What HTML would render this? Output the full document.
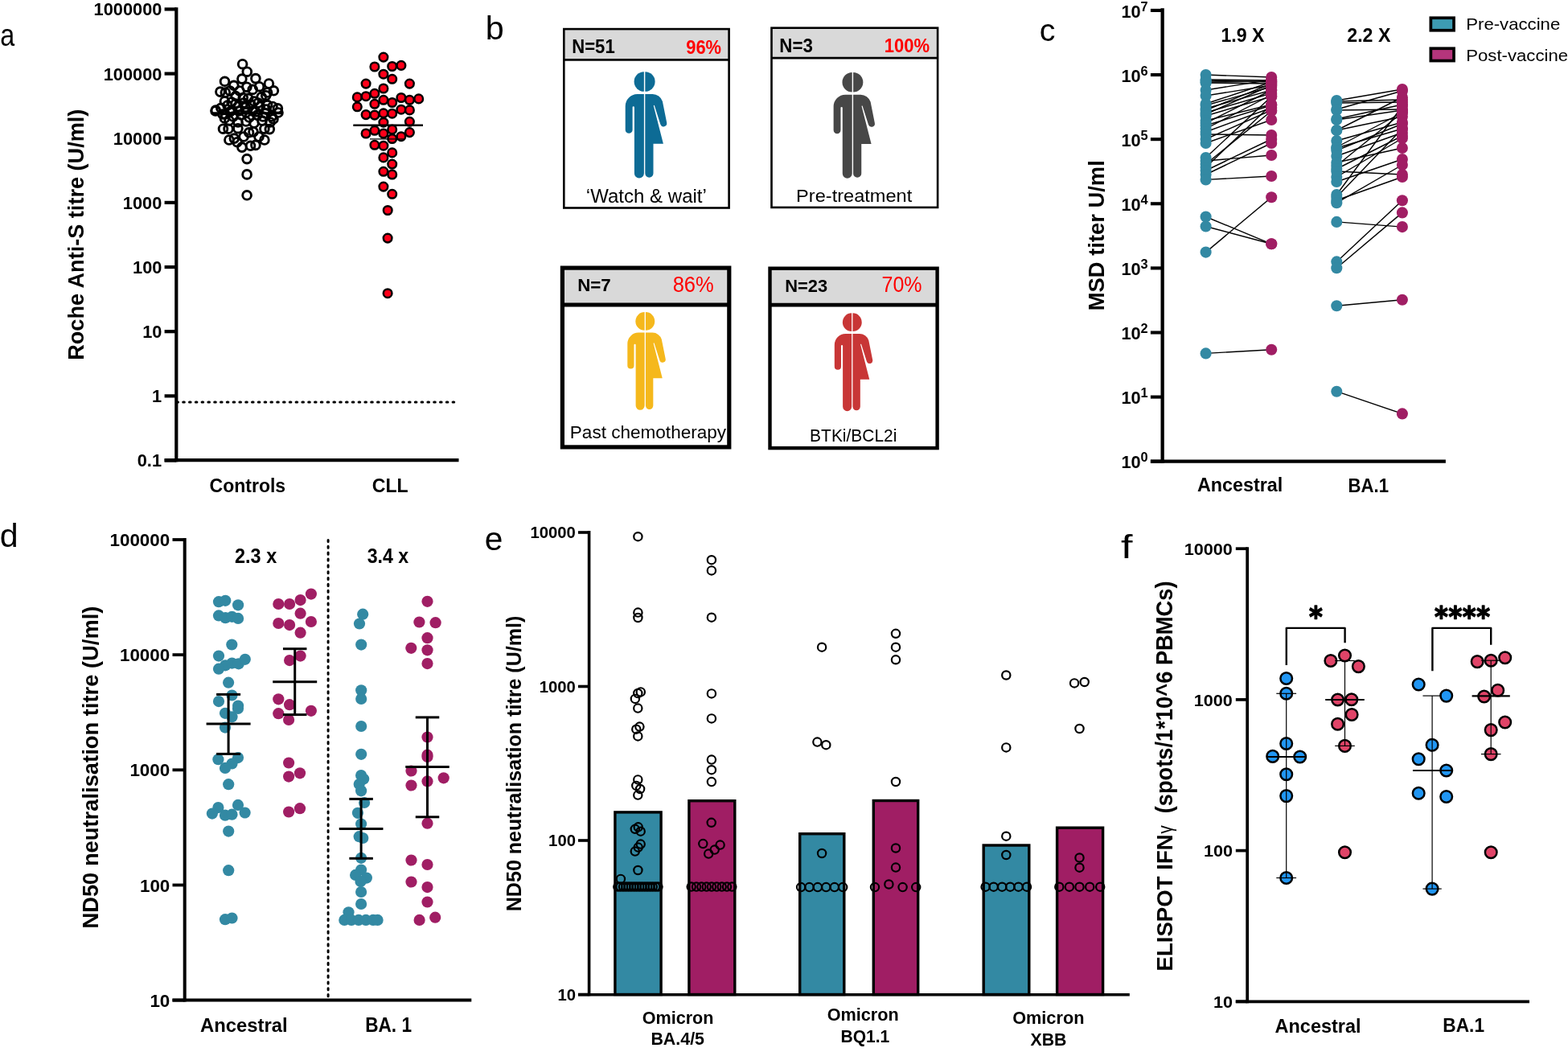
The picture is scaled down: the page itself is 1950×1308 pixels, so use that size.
<!DOCTYPE html>
<html><head><meta charset="utf-8"><title>Figure</title>
<style>html,body{margin:0;padding:0;background:#fff;}svg{display:block;}
text{font-family:"Liberation Sans",Arial,sans-serif;}</style></head>
<body><svg width="1950" height="1308" viewBox="0 0 1950 1308">
<rect width="1950" height="1308" fill="#fff"/>
<text transform="translate(0.34 56.61) scale(0.8393 1)" font-size="38.55" font-weight="normal" fill="#000">a</text>
<text transform="translate(603.81 48.79) scale(1.0161 1)" font-size="40.68" font-weight="normal" fill="#000">b</text>
<text transform="translate(1292.83 51.11) scale(1.0054 1)" font-size="39.09" font-weight="normal" fill="#000">c</text>
<text transform="translate(-0.14 679.89) scale(0.9972 1)" font-size="41.22" font-weight="normal" fill="#000">d</text>
<text transform="translate(602.77 683.60) scale(1.0161 1)" font-size="40.00" font-weight="normal" fill="#000">e</text>
<text transform="translate(1394.12 694.00) scale(1.2974 1)" font-size="40.14" font-weight="normal" fill="#000">f</text>
<line x1="204.60" y1="572.50" x2="219.30" y2="572.50" stroke="#000" stroke-width="4.2"/>
<text transform="translate(170.75 580.42) scale(0.9494 1)" font-size="22.96" font-weight="bold" fill="#000">0.1</text>
<line x1="204.60" y1="492.35" x2="219.30" y2="492.35" stroke="#000" stroke-width="4.2"/>
<text transform="translate(188.95 500.27) scale(0.9494 1)" font-size="22.96" font-weight="bold" fill="#000">1</text>
<line x1="204.60" y1="412.20" x2="219.30" y2="412.20" stroke="#000" stroke-width="4.2"/>
<text transform="translate(177.18 420.12) scale(0.9494 1)" font-size="22.96" font-weight="bold" fill="#000">10</text>
<line x1="204.60" y1="332.05" x2="219.30" y2="332.05" stroke="#000" stroke-width="4.2"/>
<text transform="translate(165.08 339.97) scale(0.9494 1)" font-size="22.96" font-weight="bold" fill="#000">100</text>
<line x1="204.60" y1="251.90" x2="219.30" y2="251.90" stroke="#000" stroke-width="4.2"/>
<text transform="translate(152.87 259.82) scale(0.9494 1)" font-size="22.96" font-weight="bold" fill="#000">1000</text>
<line x1="204.60" y1="171.75" x2="219.30" y2="171.75" stroke="#000" stroke-width="4.2"/>
<text transform="translate(140.78 179.67) scale(0.9494 1)" font-size="22.96" font-weight="bold" fill="#000">10000</text>
<line x1="204.60" y1="91.60" x2="219.30" y2="91.60" stroke="#000" stroke-width="4.2"/>
<text transform="translate(128.68 99.52) scale(0.9494 1)" font-size="22.96" font-weight="bold" fill="#000">100000</text>
<line x1="204.60" y1="11.45" x2="219.30" y2="11.45" stroke="#000" stroke-width="4.2"/>
<text transform="translate(116.58 19.37) scale(0.9494 1)" font-size="22.96" font-weight="bold" fill="#000">1000000</text>
<line x1="219.90" y1="499.90" x2="570.00" y2="499.90" stroke="#000" stroke-width="3" stroke-dasharray="1.6 6.2" stroke-linecap="round"/>
<line x1="219.30" y1="9.20" x2="219.30" y2="574.20" stroke="#000" stroke-width="4.2"/>
<line x1="204.60" y1="572.20" x2="570.50" y2="572.20" stroke="#000" stroke-width="4.2"/>
<text transform="translate(103.55 447.76) rotate(-90) scale(0.9562 1)" font-size="28.34" font-weight="bold" fill="#000">Roche Anti-S titre (U/ml)</text>
<text transform="translate(260.58 611.56) scale(0.9727 1)" font-size="23.67" font-weight="bold" fill="#000">Controls</text>
<text transform="translate(462.67 611.56) scale(0.9555 1)" font-size="24.23" font-weight="bold" fill="#000">CLL</text>
<circle cx="301.6" cy="79.7" r="5.35" fill="none" stroke="#000" stroke-width="2.9"/>
<circle cx="307.3" cy="89.2" r="5.35" fill="none" stroke="#000" stroke-width="2.9"/>
<circle cx="300.9" cy="98.1" r="5.35" fill="none" stroke="#000" stroke-width="2.9"/>
<circle cx="317.9" cy="97.6" r="5.35" fill="none" stroke="#000" stroke-width="2.9"/>
<circle cx="279.5" cy="101.3" r="5.35" fill="none" stroke="#000" stroke-width="2.9"/>
<circle cx="290.8" cy="106.3" r="5.35" fill="none" stroke="#000" stroke-width="2.9"/>
<circle cx="334.4" cy="104.0" r="5.35" fill="none" stroke="#000" stroke-width="2.9"/>
<circle cx="340.4" cy="112.8" r="5.35" fill="none" stroke="#000" stroke-width="2.9"/>
<circle cx="273.9" cy="114.1" r="5.35" fill="none" stroke="#000" stroke-width="2.9"/>
<circle cx="306.9" cy="108.2" r="5.35" fill="none" stroke="#000" stroke-width="2.9"/>
<circle cx="322.5" cy="107.7" r="5.35" fill="none" stroke="#000" stroke-width="2.9"/>
<circle cx="280.3" cy="115.0" r="5.35" fill="none" stroke="#000" stroke-width="2.9"/>
<circle cx="314.2" cy="111.4" r="5.35" fill="none" stroke="#000" stroke-width="2.9"/>
<circle cx="332.6" cy="115.0" r="5.35" fill="none" stroke="#000" stroke-width="2.9"/>
<circle cx="293.1" cy="119.6" r="5.35" fill="none" stroke="#000" stroke-width="2.9"/>
<circle cx="302.3" cy="121.5" r="5.35" fill="none" stroke="#000" stroke-width="2.9"/>
<circle cx="308.7" cy="122.4" r="5.35" fill="none" stroke="#000" stroke-width="2.9"/>
<circle cx="325.2" cy="120.6" r="5.35" fill="none" stroke="#000" stroke-width="2.9"/>
<circle cx="330.7" cy="118.7" r="5.35" fill="none" stroke="#000" stroke-width="2.9"/>
<circle cx="279.4" cy="126.0" r="5.35" fill="none" stroke="#000" stroke-width="2.9"/>
<circle cx="268.3" cy="137.0" r="5.35" fill="none" stroke="#000" stroke-width="2.9"/>
<circle cx="274.8" cy="134.3" r="5.35" fill="none" stroke="#000" stroke-width="2.9"/>
<circle cx="345.4" cy="134.8" r="5.35" fill="none" stroke="#000" stroke-width="2.9"/>
<circle cx="339.0" cy="132.5" r="5.35" fill="none" stroke="#000" stroke-width="2.9"/>
<circle cx="332.6" cy="130.6" r="5.35" fill="none" stroke="#000" stroke-width="2.9"/>
<circle cx="323.4" cy="132.5" r="5.35" fill="none" stroke="#000" stroke-width="2.9"/>
<circle cx="295.9" cy="132.5" r="5.35" fill="none" stroke="#000" stroke-width="2.9"/>
<circle cx="305.0" cy="133.4" r="5.35" fill="none" stroke="#000" stroke-width="2.9"/>
<circle cx="288.5" cy="137.0" r="5.35" fill="none" stroke="#000" stroke-width="2.9"/>
<circle cx="314.2" cy="138.0" r="5.35" fill="none" stroke="#000" stroke-width="2.9"/>
<circle cx="280.0" cy="142.0" r="5.35" fill="none" stroke="#000" stroke-width="2.9"/>
<circle cx="290.0" cy="145.0" r="5.35" fill="none" stroke="#000" stroke-width="2.9"/>
<circle cx="300.0" cy="143.0" r="5.35" fill="none" stroke="#000" stroke-width="2.9"/>
<circle cx="310.0" cy="146.0" r="5.35" fill="none" stroke="#000" stroke-width="2.9"/>
<circle cx="320.0" cy="143.0" r="5.35" fill="none" stroke="#000" stroke-width="2.9"/>
<circle cx="330.0" cy="141.0" r="5.35" fill="none" stroke="#000" stroke-width="2.9"/>
<circle cx="338.0" cy="145.0" r="5.35" fill="none" stroke="#000" stroke-width="2.9"/>
<circle cx="285.0" cy="150.0" r="5.35" fill="none" stroke="#000" stroke-width="2.9"/>
<circle cx="296.0" cy="152.0" r="5.35" fill="none" stroke="#000" stroke-width="2.9"/>
<circle cx="306.0" cy="151.0" r="5.35" fill="none" stroke="#000" stroke-width="2.9"/>
<circle cx="316.0" cy="153.0" r="5.35" fill="none" stroke="#000" stroke-width="2.9"/>
<circle cx="326.0" cy="150.0" r="5.35" fill="none" stroke="#000" stroke-width="2.9"/>
<circle cx="336.0" cy="152.0" r="5.35" fill="none" stroke="#000" stroke-width="2.9"/>
<circle cx="279.4" cy="147.0" r="5.35" fill="none" stroke="#000" stroke-width="2.9"/>
<circle cx="288.0" cy="127.0" r="5.35" fill="none" stroke="#000" stroke-width="2.9"/>
<circle cx="316.0" cy="126.0" r="5.35" fill="none" stroke="#000" stroke-width="2.9"/>
<circle cx="298.0" cy="113.0" r="5.35" fill="none" stroke="#000" stroke-width="2.9"/>
<circle cx="286.0" cy="113.0" r="5.35" fill="none" stroke="#000" stroke-width="2.9"/>
<circle cx="268.0" cy="138.0" r="5.35" fill="none" stroke="#000" stroke-width="2.9"/>
<circle cx="346.0" cy="140.0" r="5.35" fill="none" stroke="#000" stroke-width="2.9"/>
<circle cx="283.0" cy="131.0" r="5.35" fill="none" stroke="#000" stroke-width="2.9"/>
<circle cx="293.0" cy="129.0" r="5.35" fill="none" stroke="#000" stroke-width="2.9"/>
<circle cx="303.0" cy="128.0" r="5.35" fill="none" stroke="#000" stroke-width="2.9"/>
<circle cx="312.0" cy="130.0" r="5.35" fill="none" stroke="#000" stroke-width="2.9"/>
<circle cx="321.0" cy="128.0" r="5.35" fill="none" stroke="#000" stroke-width="2.9"/>
<circle cx="331.0" cy="136.0" r="5.35" fill="none" stroke="#000" stroke-width="2.9"/>
<circle cx="277.0" cy="142.0" r="5.35" fill="none" stroke="#000" stroke-width="2.9"/>
<circle cx="286.0" cy="139.0" r="5.35" fill="none" stroke="#000" stroke-width="2.9"/>
<circle cx="297.0" cy="138.0" r="5.35" fill="none" stroke="#000" stroke-width="2.9"/>
<circle cx="306.0" cy="140.0" r="5.35" fill="none" stroke="#000" stroke-width="2.9"/>
<circle cx="318.0" cy="139.0" r="5.35" fill="none" stroke="#000" stroke-width="2.9"/>
<circle cx="327.0" cy="145.0" r="5.35" fill="none" stroke="#000" stroke-width="2.9"/>
<circle cx="340.0" cy="148.0" r="5.35" fill="none" stroke="#000" stroke-width="2.9"/>
<circle cx="277.5" cy="160.2" r="5.35" fill="none" stroke="#000" stroke-width="2.9"/>
<circle cx="284.0" cy="160.2" r="5.35" fill="none" stroke="#000" stroke-width="2.9"/>
<circle cx="295.9" cy="159.7" r="5.35" fill="none" stroke="#000" stroke-width="2.9"/>
<circle cx="309.6" cy="164.8" r="5.35" fill="none" stroke="#000" stroke-width="2.9"/>
<circle cx="315.0" cy="163.9" r="5.35" fill="none" stroke="#000" stroke-width="2.9"/>
<circle cx="328.9" cy="160.2" r="5.35" fill="none" stroke="#000" stroke-width="2.9"/>
<circle cx="335.3" cy="160.6" r="5.35" fill="none" stroke="#000" stroke-width="2.9"/>
<circle cx="284.9" cy="174.0" r="5.35" fill="none" stroke="#000" stroke-width="2.9"/>
<circle cx="291.3" cy="172.1" r="5.35" fill="none" stroke="#000" stroke-width="2.9"/>
<circle cx="295.0" cy="176.7" r="5.35" fill="none" stroke="#000" stroke-width="2.9"/>
<circle cx="300.9" cy="183.1" r="5.35" fill="none" stroke="#000" stroke-width="2.9"/>
<circle cx="311.5" cy="181.3" r="5.35" fill="none" stroke="#000" stroke-width="2.9"/>
<circle cx="317.9" cy="180.4" r="5.35" fill="none" stroke="#000" stroke-width="2.9"/>
<circle cx="328.9" cy="174.0" r="5.35" fill="none" stroke="#000" stroke-width="2.9"/>
<circle cx="303.0" cy="170.0" r="5.35" fill="none" stroke="#000" stroke-width="2.9"/>
<circle cx="322.0" cy="170.0" r="5.35" fill="none" stroke="#000" stroke-width="2.9"/>
<circle cx="307.1" cy="197.6" r="5.35" fill="none" stroke="#000" stroke-width="2.9"/>
<circle cx="307.1" cy="216.9" r="5.35" fill="none" stroke="#000" stroke-width="2.9"/>
<circle cx="307.1" cy="242.8" r="5.35" fill="none" stroke="#000" stroke-width="2.9"/>
<line x1="262.80" y1="140.70" x2="351.00" y2="140.70" stroke="#000" stroke-width="3"/>
<circle cx="476.9" cy="71.1" r="5.3" fill="#ff0019" stroke="#000" stroke-width="2.5"/>
<circle cx="465.9" cy="83.0" r="5.3" fill="#ff0019" stroke="#000" stroke-width="2.5"/>
<circle cx="487.7" cy="82.5" r="5.3" fill="#ff0019" stroke="#000" stroke-width="2.5"/>
<circle cx="498.9" cy="81.4" r="5.3" fill="#ff0019" stroke="#000" stroke-width="2.5"/>
<circle cx="476.9" cy="92.2" r="5.3" fill="#ff0019" stroke="#000" stroke-width="2.5"/>
<circle cx="487.7" cy="98.3" r="5.3" fill="#ff0019" stroke="#000" stroke-width="2.5"/>
<circle cx="455.1" cy="104.1" r="5.3" fill="#ff0019" stroke="#000" stroke-width="2.5"/>
<circle cx="509.4" cy="104.1" r="5.3" fill="#ff0019" stroke="#000" stroke-width="2.5"/>
<circle cx="476.9" cy="110.0" r="5.3" fill="#ff0019" stroke="#000" stroke-width="2.5"/>
<circle cx="444.3" cy="120.9" r="5.3" fill="#ff0019" stroke="#000" stroke-width="2.5"/>
<circle cx="455.1" cy="119.7" r="5.3" fill="#ff0019" stroke="#000" stroke-width="2.5"/>
<circle cx="465.9" cy="116.3" r="5.3" fill="#ff0019" stroke="#000" stroke-width="2.5"/>
<circle cx="476.9" cy="124.3" r="5.3" fill="#ff0019" stroke="#000" stroke-width="2.5"/>
<circle cx="487.7" cy="127.5" r="5.3" fill="#ff0019" stroke="#000" stroke-width="2.5"/>
<circle cx="498.9" cy="121.5" r="5.3" fill="#ff0019" stroke="#000" stroke-width="2.5"/>
<circle cx="509.4" cy="124.3" r="5.3" fill="#ff0019" stroke="#000" stroke-width="2.5"/>
<circle cx="520.7" cy="122.9" r="5.3" fill="#ff0019" stroke="#000" stroke-width="2.5"/>
<circle cx="444.3" cy="132.8" r="5.3" fill="#ff0019" stroke="#000" stroke-width="2.5"/>
<circle cx="465.9" cy="129.3" r="5.3" fill="#ff0019" stroke="#000" stroke-width="2.5"/>
<circle cx="498.9" cy="136.2" r="5.3" fill="#ff0019" stroke="#000" stroke-width="2.5"/>
<circle cx="509.4" cy="136.9" r="5.3" fill="#ff0019" stroke="#000" stroke-width="2.5"/>
<circle cx="455.1" cy="142.6" r="5.3" fill="#ff0019" stroke="#000" stroke-width="2.5"/>
<circle cx="465.9" cy="143.1" r="5.3" fill="#ff0019" stroke="#000" stroke-width="2.5"/>
<circle cx="476.9" cy="140.8" r="5.3" fill="#ff0019" stroke="#000" stroke-width="2.5"/>
<circle cx="487.7" cy="141.2" r="5.3" fill="#ff0019" stroke="#000" stroke-width="2.5"/>
<circle cx="476.9" cy="152.2" r="5.3" fill="#ff0019" stroke="#000" stroke-width="2.5"/>
<circle cx="509.4" cy="151.3" r="5.3" fill="#ff0019" stroke="#000" stroke-width="2.5"/>
<circle cx="455.1" cy="166.0" r="5.3" fill="#ff0019" stroke="#000" stroke-width="2.5"/>
<circle cx="465.9" cy="162.3" r="5.3" fill="#ff0019" stroke="#000" stroke-width="2.5"/>
<circle cx="476.9" cy="166.0" r="5.3" fill="#ff0019" stroke="#000" stroke-width="2.5"/>
<circle cx="487.7" cy="161.0" r="5.3" fill="#ff0019" stroke="#000" stroke-width="2.5"/>
<circle cx="509.4" cy="164.6" r="5.3" fill="#ff0019" stroke="#000" stroke-width="2.5"/>
<circle cx="498.9" cy="169.7" r="5.3" fill="#ff0019" stroke="#000" stroke-width="2.5"/>
<circle cx="487.7" cy="172.5" r="5.3" fill="#ff0019" stroke="#000" stroke-width="2.5"/>
<circle cx="465.9" cy="180.3" r="5.3" fill="#ff0019" stroke="#000" stroke-width="2.5"/>
<circle cx="476.9" cy="181.2" r="5.3" fill="#ff0019" stroke="#000" stroke-width="2.5"/>
<circle cx="487.7" cy="189.9" r="5.3" fill="#ff0019" stroke="#000" stroke-width="2.5"/>
<circle cx="476.9" cy="195.9" r="5.3" fill="#ff0019" stroke="#000" stroke-width="2.5"/>
<circle cx="487.7" cy="204.1" r="5.3" fill="#ff0019" stroke="#000" stroke-width="2.5"/>
<circle cx="476.9" cy="213.3" r="5.3" fill="#ff0019" stroke="#000" stroke-width="2.5"/>
<circle cx="487.7" cy="217.0" r="5.3" fill="#ff0019" stroke="#000" stroke-width="2.5"/>
<circle cx="476.9" cy="232.1" r="5.3" fill="#ff0019" stroke="#000" stroke-width="2.5"/>
<circle cx="487.7" cy="241.3" r="5.3" fill="#ff0019" stroke="#000" stroke-width="2.5"/>
<circle cx="482.2" cy="261.5" r="5.3" fill="#ff0019" stroke="#000" stroke-width="2.5"/>
<circle cx="482.1" cy="296.1" r="5.3" fill="#ff0019" stroke="#000" stroke-width="2.5"/>
<circle cx="482.1" cy="364.7" r="5.3" fill="#ff0019" stroke="#000" stroke-width="2.5"/>
<line x1="439.30" y1="155.70" x2="526.00" y2="155.70" stroke="#000" stroke-width="2.6"/>
<line x1="460.00" y1="172.90" x2="504.00" y2="172.90" stroke="#000" stroke-width="1.2"/>
<rect x="701.30" y="36.10" width="205.30" height="38.20" fill="#d9d9d9"/>
<line x1="701.30" y1="74.30" x2="906.60" y2="74.30" stroke="#000" stroke-width="2.7"/>
<rect x="701.30" y="36.10" width="205.30" height="222.40" fill="none" stroke="#000" stroke-width="2.6"/>
<rect x="959.50" y="34.70" width="206.60" height="37.40" fill="#d9d9d9"/>
<line x1="959.50" y1="72.10" x2="1166.10" y2="72.10" stroke="#000" stroke-width="2.7"/>
<rect x="959.50" y="34.70" width="206.60" height="223.20" fill="none" stroke="#000" stroke-width="2.6"/>
<rect x="699.40" y="333.10" width="207.40" height="45.90" fill="#d9d9d9"/>
<line x1="699.40" y1="379.00" x2="906.80" y2="379.00" stroke="#000" stroke-width="5.0"/>
<rect x="699.40" y="333.10" width="207.40" height="222.80" fill="none" stroke="#000" stroke-width="5.2"/>
<rect x="957.50" y="333.70" width="208.10" height="45.40" fill="#d9d9d9"/>
<line x1="957.50" y1="379.10" x2="1165.60" y2="379.10" stroke="#000" stroke-width="4.7"/>
<rect x="957.50" y="333.70" width="208.10" height="223.40" fill="none" stroke="#000" stroke-width="4.4"/>
<g transform="translate(801.60 87.00) scale(1.0)" fill="#0d6b95"><path d="M -0.7 2.25 A 12.3 12.3 0 0 0 -0.7 26.85 Z"/><path d="M 0.7 2.25 A 12.3 12.3 0 0 1 0.7 26.85 Z"/><path d="M -0.7 30 L -9 30 A 15 15 0 0 0 -23.9 45 L -23.9 74.4 A 4.45 4.45 0 0 0 -15 74.4 L -15 46.5 A 1.15 1.15 0 0 1 -12.7 46.5 L -12.7 128.6 A 6 6 0 0 0 -0.7 128.6 Z"/><path d="M 0.7 30 L 10 30 A 13 13 0 0 1 22.3 39 L 27.6 65.5 A 4.1 4.1 0 0 1 19.7 67.6 L 12.2 44 A 0.6 0.6 0 0 0 11.2 44.4 L 23.3 91.7 L 10.9 91.7 L 10.9 128.6 A 5.1 5.1 0 0 1 0.7 128.6 Z"/></g>
<g transform="translate(1060.40 87.80) scale(0.995)" fill="#474747"><path d="M -0.7 2.25 A 12.3 12.3 0 0 0 -0.7 26.85 Z"/><path d="M 0.7 2.25 A 12.3 12.3 0 0 1 0.7 26.85 Z"/><path d="M -0.7 30 L -9 30 A 15 15 0 0 0 -23.9 45 L -23.9 74.4 A 4.45 4.45 0 0 0 -15 74.4 L -15 46.5 A 1.15 1.15 0 0 1 -12.7 46.5 L -12.7 128.6 A 6 6 0 0 0 -0.7 128.6 Z"/><path d="M 0.7 30 L 10 30 A 13 13 0 0 1 22.3 39 L 27.6 65.5 A 4.1 4.1 0 0 1 19.7 67.6 L 12.2 44 A 0.6 0.6 0 0 0 11.2 44.4 L 23.3 91.7 L 10.9 91.7 L 10.9 128.6 A 5.1 5.1 0 0 1 0.7 128.6 Z"/></g>
<g transform="translate(802.30 386.00) scale(0.92)" fill="#f5b81c"><path d="M -0.7 2.25 A 12.3 12.3 0 0 0 -0.7 26.85 Z"/><path d="M 0.7 2.25 A 12.3 12.3 0 0 1 0.7 26.85 Z"/><path d="M -0.7 30 L -9 30 A 15 15 0 0 0 -23.9 45 L -23.9 74.4 A 4.45 4.45 0 0 0 -15 74.4 L -15 46.5 A 1.15 1.15 0 0 1 -12.7 46.5 L -12.7 128.6 A 6 6 0 0 0 -0.7 128.6 Z"/><path d="M 0.7 30 L 10 30 A 13 13 0 0 1 22.3 39 L 27.6 65.5 A 4.1 4.1 0 0 1 19.7 67.6 L 12.2 44 A 0.6 0.6 0 0 0 11.2 44.4 L 23.3 91.7 L 10.9 91.7 L 10.9 128.6 A 5.1 5.1 0 0 1 0.7 128.6 Z"/></g>
<g transform="translate(1059.80 387.30) scale(0.92)" fill="#c83636"><path d="M -0.7 2.25 A 12.3 12.3 0 0 0 -0.7 26.85 Z"/><path d="M 0.7 2.25 A 12.3 12.3 0 0 1 0.7 26.85 Z"/><path d="M -0.7 30 L -9 30 A 15 15 0 0 0 -23.9 45 L -23.9 74.4 A 4.45 4.45 0 0 0 -15 74.4 L -15 46.5 A 1.15 1.15 0 0 1 -12.7 46.5 L -12.7 128.6 A 6 6 0 0 0 -0.7 128.6 Z"/><path d="M 0.7 30 L 10 30 A 13 13 0 0 1 22.3 39 L 27.6 65.5 A 4.1 4.1 0 0 1 19.7 67.6 L 12.2 44 A 0.6 0.6 0 0 0 11.2 44.4 L 23.3 91.7 L 10.9 91.7 L 10.9 128.6 A 5.1 5.1 0 0 1 0.7 128.6 Z"/></g>
<text transform="translate(711.26 66.17) scale(0.9494 1)" font-size="23.29" font-weight="bold" fill="#000">N=51</text>
<text transform="translate(853.23 66.56) scale(0.9204 1)" font-size="23.80" font-weight="bold" fill="#ff0000">96%</text>
<text transform="translate(728.86 251.77) scale(1.0392 1)" font-size="23.13" font-weight="normal" fill="#000">‘Watch &amp; wait’</text>
<text transform="translate(969.35 65.17) scale(0.9667 1)" font-size="23.10" font-weight="bold" fill="#000">N=3</text>
<text transform="translate(1099.67 65.46) scale(0.9091 1)" font-size="24.23" font-weight="bold" fill="#ff0000">100%</text>
<text transform="translate(990.11 251.38) scale(1.0516 1)" font-size="22.43" font-weight="normal" fill="#000">Pre-treatment</text>
<text transform="translate(718.15 361.90) scale(0.9882 1)" font-size="22.61" font-weight="bold" fill="#000">N=7</text>
<text transform="translate(836.65 362.52) scale(0.9198 1)" font-size="27.75" font-weight="normal" fill="#ff0000">86%</text>
<text transform="translate(976.18 362.58) scale(0.9904 1)" font-size="22.11" font-weight="bold" fill="#000">N=23</text>
<text transform="translate(1096.55 363.12) scale(0.8969 1)" font-size="27.89" font-weight="normal" fill="#ff0000">70%</text>
<text transform="translate(708.80 544.54) scale(0.9948 1)" font-size="22.67" font-weight="normal" fill="#000">Past chemotherapy</text>
<text transform="translate(1007.12 548.90) scale(0.9273 1)" font-size="22.60" font-weight="normal" fill="#000">BTKi/BCL2i</text>
<line x1="1430.90" y1="573.70" x2="1445.65" y2="573.70" stroke="#000" stroke-width="4.1"/>
<text transform="translate(1394.38 582.32) scale(0.9670 1)" font-size="22.54" font-weight="bold">10</text>
<text transform="translate(1418.6 574.48) scale(0.9670 1)" font-size="16.90" font-weight="bold">0</text>
<line x1="1430.90" y1="493.59" x2="1445.65" y2="493.59" stroke="#000" stroke-width="4.1"/>
<text transform="translate(1394.38 502.21) scale(0.9670 1)" font-size="22.54" font-weight="bold">10</text>
<text transform="translate(1418.6 494.37) scale(0.9670 1)" font-size="16.90" font-weight="bold">1</text>
<line x1="1430.90" y1="413.48" x2="1445.65" y2="413.48" stroke="#000" stroke-width="4.1"/>
<text transform="translate(1394.38 422.10) scale(0.9670 1)" font-size="22.54" font-weight="bold">10</text>
<text transform="translate(1418.6 414.26) scale(0.9670 1)" font-size="16.90" font-weight="bold">2</text>
<line x1="1430.90" y1="333.37" x2="1445.65" y2="333.37" stroke="#000" stroke-width="4.1"/>
<text transform="translate(1394.38 341.99) scale(0.9670 1)" font-size="22.54" font-weight="bold">10</text>
<text transform="translate(1418.6 334.15) scale(0.9670 1)" font-size="16.90" font-weight="bold">3</text>
<line x1="1430.90" y1="253.26" x2="1445.65" y2="253.26" stroke="#000" stroke-width="4.1"/>
<text transform="translate(1394.38 261.88) scale(0.9670 1)" font-size="22.54" font-weight="bold">10</text>
<text transform="translate(1418.6 254.04) scale(0.9670 1)" font-size="16.90" font-weight="bold">4</text>
<line x1="1430.90" y1="173.15" x2="1445.65" y2="173.15" stroke="#000" stroke-width="4.1"/>
<text transform="translate(1394.38 181.77) scale(0.9670 1)" font-size="22.54" font-weight="bold">10</text>
<text transform="translate(1418.6 173.93) scale(0.9670 1)" font-size="16.90" font-weight="bold">5</text>
<line x1="1430.90" y1="93.04" x2="1445.65" y2="93.04" stroke="#000" stroke-width="4.1"/>
<text transform="translate(1394.38 101.66) scale(0.9670 1)" font-size="22.54" font-weight="bold">10</text>
<text transform="translate(1418.6 93.82) scale(0.9670 1)" font-size="16.90" font-weight="bold">6</text>
<line x1="1430.90" y1="12.93" x2="1445.65" y2="12.93" stroke="#000" stroke-width="4.1"/>
<text transform="translate(1394.38 21.55) scale(0.9670 1)" font-size="22.54" font-weight="bold">10</text>
<text transform="translate(1418.6 13.71) scale(0.9670 1)" font-size="16.90" font-weight="bold">7</text>
<line x1="1445.65" y1="10.20" x2="1445.65" y2="575.80" stroke="#000" stroke-width="4.3"/>
<line x1="1430.90" y1="573.70" x2="1797.90" y2="573.70" stroke="#000" stroke-width="4.3"/>
<text transform="translate(1373.45 386.18) rotate(-90) scale(0.9993 1)" font-size="27.38" font-weight="bold" fill="#000">MSD titer U/ml</text>
<text transform="translate(1518.50 52.06) scale(0.9722 1)" font-size="23.80" font-weight="bold" fill="#000">1.9 X</text>
<text transform="translate(1675.29 52.00) scale(0.9778 1)" font-size="23.71" font-weight="bold" fill="#000">2.2 X</text>
<rect x="1779.35" y="22.25" width="28.7" height="15.5" fill="#3d9bb2" stroke="#000" stroke-width="3.7"/>
<rect x="1779.35" y="60.25" width="28.7" height="15.3" fill="#b5357c" stroke="#000" stroke-width="3.7"/>
<text transform="translate(1823.23 36.69) scale(1.0652 1)" font-size="20.82" font-weight="normal" fill="#000">Pre-vaccine</text>
<text transform="translate(1823.23 75.5) scale(1.0507 1)" font-size="21.10">Post-vaccine</text>
<text transform="translate(1489.02 611.47) scale(1.0023 1)" font-size="23.27" font-weight="bold" fill="#000">Ancestral</text>
<text transform="translate(1676.56 611.70) scale(0.8938 1)" font-size="24.78" font-weight="bold" fill="#000">BA.1</text>
<line x1="1499.60" y1="93.00" x2="1581.20" y2="96.00" stroke="#000" stroke-width="1.4"/>
<line x1="1499.60" y1="99.00" x2="1581.20" y2="100.00" stroke="#000" stroke-width="1.4"/>
<line x1="1499.60" y1="100.00" x2="1581.20" y2="102.00" stroke="#000" stroke-width="1.4"/>
<line x1="1499.60" y1="102.00" x2="1581.20" y2="101.00" stroke="#000" stroke-width="1.4"/>
<line x1="1499.60" y1="103.00" x2="1581.20" y2="104.00" stroke="#000" stroke-width="1.4"/>
<line x1="1499.60" y1="112.00" x2="1581.20" y2="99.00" stroke="#000" stroke-width="1.4"/>
<line x1="1499.60" y1="119.00" x2="1581.20" y2="106.00" stroke="#000" stroke-width="1.4"/>
<line x1="1499.60" y1="129.00" x2="1581.20" y2="102.00" stroke="#000" stroke-width="1.4"/>
<line x1="1499.60" y1="131.00" x2="1581.20" y2="108.00" stroke="#000" stroke-width="1.4"/>
<line x1="1499.60" y1="135.00" x2="1581.20" y2="112.00" stroke="#000" stroke-width="1.4"/>
<line x1="1499.60" y1="137.00" x2="1581.20" y2="104.00" stroke="#000" stroke-width="1.4"/>
<line x1="1499.60" y1="140.00" x2="1581.20" y2="116.00" stroke="#000" stroke-width="1.4"/>
<line x1="1499.60" y1="142.00" x2="1581.20" y2="106.00" stroke="#000" stroke-width="1.4"/>
<line x1="1499.60" y1="144.00" x2="1581.20" y2="120.00" stroke="#000" stroke-width="1.4"/>
<line x1="1499.60" y1="150.00" x2="1581.20" y2="130.00" stroke="#000" stroke-width="1.4"/>
<line x1="1499.60" y1="153.00" x2="1581.20" y2="112.00" stroke="#000" stroke-width="1.4"/>
<line x1="1499.60" y1="156.00" x2="1581.20" y2="131.00" stroke="#000" stroke-width="1.4"/>
<line x1="1499.60" y1="160.00" x2="1581.20" y2="118.00" stroke="#000" stroke-width="1.4"/>
<line x1="1499.60" y1="164.00" x2="1581.20" y2="134.00" stroke="#000" stroke-width="1.4"/>
<line x1="1499.60" y1="167.00" x2="1581.20" y2="168.00" stroke="#000" stroke-width="1.4"/>
<line x1="1499.60" y1="173.00" x2="1581.20" y2="137.00" stroke="#000" stroke-width="1.4"/>
<line x1="1499.60" y1="178.00" x2="1581.20" y2="149.00" stroke="#000" stroke-width="1.4"/>
<line x1="1499.60" y1="196.00" x2="1581.20" y2="120.00" stroke="#000" stroke-width="1.4"/>
<line x1="1499.60" y1="200.00" x2="1581.20" y2="193.00" stroke="#000" stroke-width="1.4"/>
<line x1="1499.60" y1="204.00" x2="1581.20" y2="138.00" stroke="#000" stroke-width="1.4"/>
<line x1="1499.60" y1="208.00" x2="1581.20" y2="130.00" stroke="#000" stroke-width="1.4"/>
<line x1="1499.60" y1="212.00" x2="1581.20" y2="173.00" stroke="#000" stroke-width="1.4"/>
<line x1="1499.60" y1="217.00" x2="1581.20" y2="178.00" stroke="#000" stroke-width="1.4"/>
<line x1="1499.60" y1="223.40" x2="1581.20" y2="219.00" stroke="#000" stroke-width="1.4"/>
<line x1="1499.60" y1="269.50" x2="1581.20" y2="303.30" stroke="#000" stroke-width="1.4"/>
<line x1="1499.60" y1="281.50" x2="1581.20" y2="303.30" stroke="#000" stroke-width="1.4"/>
<line x1="1499.60" y1="313.60" x2="1581.20" y2="245.30" stroke="#000" stroke-width="1.4"/>
<line x1="1499.60" y1="439.40" x2="1581.20" y2="434.80" stroke="#000" stroke-width="1.4"/>
<line x1="1662.30" y1="125.00" x2="1743.90" y2="111.00" stroke="#000" stroke-width="1.4"/>
<line x1="1662.30" y1="126.00" x2="1743.90" y2="124.00" stroke="#000" stroke-width="1.4"/>
<line x1="1662.30" y1="128.00" x2="1743.90" y2="127.00" stroke="#000" stroke-width="1.4"/>
<line x1="1662.30" y1="136.00" x2="1743.90" y2="113.00" stroke="#000" stroke-width="1.4"/>
<line x1="1662.30" y1="137.00" x2="1743.90" y2="136.00" stroke="#000" stroke-width="1.4"/>
<line x1="1662.30" y1="148.00" x2="1743.90" y2="130.00" stroke="#000" stroke-width="1.4"/>
<line x1="1662.30" y1="149.00" x2="1743.90" y2="137.00" stroke="#000" stroke-width="1.4"/>
<line x1="1662.30" y1="162.00" x2="1743.90" y2="121.00" stroke="#000" stroke-width="1.4"/>
<line x1="1662.30" y1="162.00" x2="1743.90" y2="145.00" stroke="#000" stroke-width="1.4"/>
<line x1="1662.30" y1="175.00" x2="1743.90" y2="152.00" stroke="#000" stroke-width="1.4"/>
<line x1="1662.30" y1="183.00" x2="1743.90" y2="140.00" stroke="#000" stroke-width="1.4"/>
<line x1="1662.30" y1="184.00" x2="1743.90" y2="160.00" stroke="#000" stroke-width="1.4"/>
<line x1="1662.30" y1="187.00" x2="1743.90" y2="154.00" stroke="#000" stroke-width="1.4"/>
<line x1="1662.30" y1="194.00" x2="1743.90" y2="165.00" stroke="#000" stroke-width="1.4"/>
<line x1="1662.30" y1="202.00" x2="1743.90" y2="184.00" stroke="#000" stroke-width="1.4"/>
<line x1="1662.30" y1="206.00" x2="1743.90" y2="140.00" stroke="#000" stroke-width="1.4"/>
<line x1="1662.30" y1="210.00" x2="1743.90" y2="169.00" stroke="#000" stroke-width="1.4"/>
<line x1="1662.30" y1="213.00" x2="1743.90" y2="217.00" stroke="#000" stroke-width="1.4"/>
<line x1="1662.30" y1="220.00" x2="1743.90" y2="172.00" stroke="#000" stroke-width="1.4"/>
<line x1="1662.30" y1="226.00" x2="1743.90" y2="198.00" stroke="#000" stroke-width="1.4"/>
<line x1="1662.30" y1="242.00" x2="1743.90" y2="132.00" stroke="#000" stroke-width="1.4"/>
<line x1="1662.30" y1="245.00" x2="1743.90" y2="160.00" stroke="#000" stroke-width="1.4"/>
<line x1="1662.30" y1="249.00" x2="1743.90" y2="220.00" stroke="#000" stroke-width="1.4"/>
<line x1="1662.30" y1="252.20" x2="1743.90" y2="205.00" stroke="#000" stroke-width="1.4"/>
<line x1="1662.30" y1="275.90" x2="1743.90" y2="282.10" stroke="#000" stroke-width="1.4"/>
<line x1="1662.30" y1="325.40" x2="1743.90" y2="249.30" stroke="#000" stroke-width="1.4"/>
<line x1="1662.30" y1="333.20" x2="1743.90" y2="264.40" stroke="#000" stroke-width="1.4"/>
<line x1="1662.30" y1="380.20" x2="1743.90" y2="372.70" stroke="#000" stroke-width="1.4"/>
<line x1="1662.30" y1="486.70" x2="1743.90" y2="514.40" stroke="#000" stroke-width="1.4"/>
<circle cx="1499.6" cy="93.0" r="7.05" fill="#3389a3"/>
<circle cx="1581.2" cy="96.0" r="7.05" fill="#a01e64"/>
<circle cx="1499.6" cy="99.0" r="7.05" fill="#3389a3"/>
<circle cx="1581.2" cy="100.0" r="7.05" fill="#a01e64"/>
<circle cx="1499.6" cy="100.0" r="7.05" fill="#3389a3"/>
<circle cx="1581.2" cy="102.0" r="7.05" fill="#a01e64"/>
<circle cx="1499.6" cy="102.0" r="7.05" fill="#3389a3"/>
<circle cx="1581.2" cy="101.0" r="7.05" fill="#a01e64"/>
<circle cx="1499.6" cy="103.0" r="7.05" fill="#3389a3"/>
<circle cx="1581.2" cy="104.0" r="7.05" fill="#a01e64"/>
<circle cx="1499.6" cy="112.0" r="7.05" fill="#3389a3"/>
<circle cx="1581.2" cy="99.0" r="7.05" fill="#a01e64"/>
<circle cx="1499.6" cy="119.0" r="7.05" fill="#3389a3"/>
<circle cx="1581.2" cy="106.0" r="7.05" fill="#a01e64"/>
<circle cx="1499.6" cy="129.0" r="7.05" fill="#3389a3"/>
<circle cx="1581.2" cy="102.0" r="7.05" fill="#a01e64"/>
<circle cx="1499.6" cy="131.0" r="7.05" fill="#3389a3"/>
<circle cx="1581.2" cy="108.0" r="7.05" fill="#a01e64"/>
<circle cx="1499.6" cy="135.0" r="7.05" fill="#3389a3"/>
<circle cx="1581.2" cy="112.0" r="7.05" fill="#a01e64"/>
<circle cx="1499.6" cy="137.0" r="7.05" fill="#3389a3"/>
<circle cx="1581.2" cy="104.0" r="7.05" fill="#a01e64"/>
<circle cx="1499.6" cy="140.0" r="7.05" fill="#3389a3"/>
<circle cx="1581.2" cy="116.0" r="7.05" fill="#a01e64"/>
<circle cx="1499.6" cy="142.0" r="7.05" fill="#3389a3"/>
<circle cx="1581.2" cy="106.0" r="7.05" fill="#a01e64"/>
<circle cx="1499.6" cy="144.0" r="7.05" fill="#3389a3"/>
<circle cx="1581.2" cy="120.0" r="7.05" fill="#a01e64"/>
<circle cx="1499.6" cy="150.0" r="7.05" fill="#3389a3"/>
<circle cx="1581.2" cy="130.0" r="7.05" fill="#a01e64"/>
<circle cx="1499.6" cy="153.0" r="7.05" fill="#3389a3"/>
<circle cx="1581.2" cy="112.0" r="7.05" fill="#a01e64"/>
<circle cx="1499.6" cy="156.0" r="7.05" fill="#3389a3"/>
<circle cx="1581.2" cy="131.0" r="7.05" fill="#a01e64"/>
<circle cx="1499.6" cy="160.0" r="7.05" fill="#3389a3"/>
<circle cx="1581.2" cy="118.0" r="7.05" fill="#a01e64"/>
<circle cx="1499.6" cy="164.0" r="7.05" fill="#3389a3"/>
<circle cx="1581.2" cy="134.0" r="7.05" fill="#a01e64"/>
<circle cx="1499.6" cy="167.0" r="7.05" fill="#3389a3"/>
<circle cx="1581.2" cy="168.0" r="7.05" fill="#a01e64"/>
<circle cx="1499.6" cy="173.0" r="7.05" fill="#3389a3"/>
<circle cx="1581.2" cy="137.0" r="7.05" fill="#a01e64"/>
<circle cx="1499.6" cy="178.0" r="7.05" fill="#3389a3"/>
<circle cx="1581.2" cy="149.0" r="7.05" fill="#a01e64"/>
<circle cx="1499.6" cy="196.0" r="7.05" fill="#3389a3"/>
<circle cx="1581.2" cy="120.0" r="7.05" fill="#a01e64"/>
<circle cx="1499.6" cy="200.0" r="7.05" fill="#3389a3"/>
<circle cx="1581.2" cy="193.0" r="7.05" fill="#a01e64"/>
<circle cx="1499.6" cy="204.0" r="7.05" fill="#3389a3"/>
<circle cx="1581.2" cy="138.0" r="7.05" fill="#a01e64"/>
<circle cx="1499.6" cy="208.0" r="7.05" fill="#3389a3"/>
<circle cx="1581.2" cy="130.0" r="7.05" fill="#a01e64"/>
<circle cx="1499.6" cy="212.0" r="7.05" fill="#3389a3"/>
<circle cx="1581.2" cy="173.0" r="7.05" fill="#a01e64"/>
<circle cx="1499.6" cy="217.0" r="7.05" fill="#3389a3"/>
<circle cx="1581.2" cy="178.0" r="7.05" fill="#a01e64"/>
<circle cx="1499.6" cy="223.4" r="7.05" fill="#3389a3"/>
<circle cx="1581.2" cy="219.0" r="7.05" fill="#a01e64"/>
<circle cx="1499.6" cy="269.5" r="7.05" fill="#3389a3"/>
<circle cx="1581.2" cy="303.3" r="7.05" fill="#a01e64"/>
<circle cx="1499.6" cy="281.5" r="7.05" fill="#3389a3"/>
<circle cx="1581.2" cy="303.3" r="7.05" fill="#a01e64"/>
<circle cx="1499.6" cy="313.6" r="7.05" fill="#3389a3"/>
<circle cx="1581.2" cy="245.3" r="7.05" fill="#a01e64"/>
<circle cx="1499.6" cy="439.4" r="7.05" fill="#3389a3"/>
<circle cx="1581.2" cy="434.8" r="7.05" fill="#a01e64"/>
<circle cx="1662.3" cy="125.0" r="7.05" fill="#3389a3"/>
<circle cx="1743.9" cy="111.0" r="7.05" fill="#a01e64"/>
<circle cx="1662.3" cy="126.0" r="7.05" fill="#3389a3"/>
<circle cx="1743.9" cy="124.0" r="7.05" fill="#a01e64"/>
<circle cx="1662.3" cy="128.0" r="7.05" fill="#3389a3"/>
<circle cx="1743.9" cy="127.0" r="7.05" fill="#a01e64"/>
<circle cx="1662.3" cy="136.0" r="7.05" fill="#3389a3"/>
<circle cx="1743.9" cy="113.0" r="7.05" fill="#a01e64"/>
<circle cx="1662.3" cy="137.0" r="7.05" fill="#3389a3"/>
<circle cx="1743.9" cy="136.0" r="7.05" fill="#a01e64"/>
<circle cx="1662.3" cy="148.0" r="7.05" fill="#3389a3"/>
<circle cx="1743.9" cy="130.0" r="7.05" fill="#a01e64"/>
<circle cx="1662.3" cy="149.0" r="7.05" fill="#3389a3"/>
<circle cx="1743.9" cy="137.0" r="7.05" fill="#a01e64"/>
<circle cx="1662.3" cy="162.0" r="7.05" fill="#3389a3"/>
<circle cx="1743.9" cy="121.0" r="7.05" fill="#a01e64"/>
<circle cx="1662.3" cy="162.0" r="7.05" fill="#3389a3"/>
<circle cx="1743.9" cy="145.0" r="7.05" fill="#a01e64"/>
<circle cx="1662.3" cy="175.0" r="7.05" fill="#3389a3"/>
<circle cx="1743.9" cy="152.0" r="7.05" fill="#a01e64"/>
<circle cx="1662.3" cy="183.0" r="7.05" fill="#3389a3"/>
<circle cx="1743.9" cy="140.0" r="7.05" fill="#a01e64"/>
<circle cx="1662.3" cy="184.0" r="7.05" fill="#3389a3"/>
<circle cx="1743.9" cy="160.0" r="7.05" fill="#a01e64"/>
<circle cx="1662.3" cy="187.0" r="7.05" fill="#3389a3"/>
<circle cx="1743.9" cy="154.0" r="7.05" fill="#a01e64"/>
<circle cx="1662.3" cy="194.0" r="7.05" fill="#3389a3"/>
<circle cx="1743.9" cy="165.0" r="7.05" fill="#a01e64"/>
<circle cx="1662.3" cy="202.0" r="7.05" fill="#3389a3"/>
<circle cx="1743.9" cy="184.0" r="7.05" fill="#a01e64"/>
<circle cx="1662.3" cy="206.0" r="7.05" fill="#3389a3"/>
<circle cx="1743.9" cy="140.0" r="7.05" fill="#a01e64"/>
<circle cx="1662.3" cy="210.0" r="7.05" fill="#3389a3"/>
<circle cx="1743.9" cy="169.0" r="7.05" fill="#a01e64"/>
<circle cx="1662.3" cy="213.0" r="7.05" fill="#3389a3"/>
<circle cx="1743.9" cy="217.0" r="7.05" fill="#a01e64"/>
<circle cx="1662.3" cy="220.0" r="7.05" fill="#3389a3"/>
<circle cx="1743.9" cy="172.0" r="7.05" fill="#a01e64"/>
<circle cx="1662.3" cy="226.0" r="7.05" fill="#3389a3"/>
<circle cx="1743.9" cy="198.0" r="7.05" fill="#a01e64"/>
<circle cx="1662.3" cy="242.0" r="7.05" fill="#3389a3"/>
<circle cx="1743.9" cy="132.0" r="7.05" fill="#a01e64"/>
<circle cx="1662.3" cy="245.0" r="7.05" fill="#3389a3"/>
<circle cx="1743.9" cy="160.0" r="7.05" fill="#a01e64"/>
<circle cx="1662.3" cy="249.0" r="7.05" fill="#3389a3"/>
<circle cx="1743.9" cy="220.0" r="7.05" fill="#a01e64"/>
<circle cx="1662.3" cy="252.2" r="7.05" fill="#3389a3"/>
<circle cx="1743.9" cy="205.0" r="7.05" fill="#a01e64"/>
<circle cx="1662.3" cy="275.9" r="7.05" fill="#3389a3"/>
<circle cx="1743.9" cy="282.1" r="7.05" fill="#a01e64"/>
<circle cx="1662.3" cy="325.4" r="7.05" fill="#3389a3"/>
<circle cx="1743.9" cy="249.3" r="7.05" fill="#a01e64"/>
<circle cx="1662.3" cy="333.2" r="7.05" fill="#3389a3"/>
<circle cx="1743.9" cy="264.4" r="7.05" fill="#a01e64"/>
<circle cx="1662.3" cy="380.2" r="7.05" fill="#3389a3"/>
<circle cx="1743.9" cy="372.7" r="7.05" fill="#a01e64"/>
<circle cx="1662.3" cy="486.7" r="7.05" fill="#3389a3"/>
<circle cx="1743.9" cy="514.4" r="7.05" fill="#a01e64"/>
<line x1="214.50" y1="1243.60" x2="229.70" y2="1243.60" stroke="#000" stroke-width="3.8"/>
<text transform="translate(186.39 1251.68) scale(1.0344 1)" font-size="21.69" font-weight="bold" fill="#000">10</text>
<line x1="214.50" y1="1100.45" x2="229.70" y2="1100.45" stroke="#000" stroke-width="3.8"/>
<text transform="translate(173.94 1108.53) scale(1.0344 1)" font-size="21.69" font-weight="bold" fill="#000">100</text>
<line x1="214.50" y1="957.30" x2="229.70" y2="957.30" stroke="#000" stroke-width="3.8"/>
<text transform="translate(161.38 965.38) scale(1.0344 1)" font-size="21.69" font-weight="bold" fill="#000">1000</text>
<line x1="214.50" y1="814.15" x2="229.70" y2="814.15" stroke="#000" stroke-width="3.8"/>
<text transform="translate(148.93 822.23) scale(1.0344 1)" font-size="21.69" font-weight="bold" fill="#000">10000</text>
<line x1="214.50" y1="671.00" x2="229.70" y2="671.00" stroke="#000" stroke-width="3.8"/>
<text transform="translate(136.47 679.08) scale(1.0344 1)" font-size="21.69" font-weight="bold" fill="#000">100000</text>
<line x1="229.70" y1="669.10" x2="229.70" y2="1245.50" stroke="#000" stroke-width="4.0"/>
<line x1="214.50" y1="1243.60" x2="586.30" y2="1243.60" stroke="#000" stroke-width="4.0"/>
<line x1="408.10" y1="671.40" x2="408.10" y2="1242.00" stroke="#000" stroke-width="3" stroke-dasharray="2.1 5.75" stroke-linecap="round"/>
<text transform="translate(122.13 1154.58) rotate(-90) scale(0.9948 1)" font-size="27.49" font-weight="bold" fill="#000">ND50 neutralisation titre (U/ml)</text>
<text transform="translate(292.08 700.05) scale(0.9246 1)" font-size="25.35" font-weight="bold" fill="#000">2.3 x</text>
<text transform="translate(456.72 700.05) scale(0.9132 1)" font-size="25.35" font-weight="bold" fill="#000">3.4 x</text>
<text transform="translate(249.10 1282.76) scale(0.9953 1)" font-size="23.95" font-weight="bold" fill="#000">Ancestral</text>
<text transform="translate(454.13 1283.00) scale(0.8875 1)" font-size="25.51" font-weight="bold" fill="#000">BA. 1</text>
<circle cx="272.0" cy="748.2" r="7.1" fill="#3389a3"/>
<circle cx="280.3" cy="746.8" r="7.1" fill="#3389a3"/>
<circle cx="296.1" cy="752.3" r="7.1" fill="#3389a3"/>
<circle cx="272.0" cy="765.4" r="7.1" fill="#3389a3"/>
<circle cx="280.3" cy="768.2" r="7.1" fill="#3389a3"/>
<circle cx="288.5" cy="766.8" r="7.1" fill="#3389a3"/>
<circle cx="296.1" cy="768.9" r="7.1" fill="#3389a3"/>
<circle cx="288.3" cy="801.5" r="7.1" fill="#3389a3"/>
<circle cx="272.0" cy="815.6" r="7.1" fill="#3389a3"/>
<circle cx="280.3" cy="827.3" r="7.1" fill="#3389a3"/>
<circle cx="288.5" cy="824.6" r="7.1" fill="#3389a3"/>
<circle cx="296.8" cy="825.3" r="7.1" fill="#3389a3"/>
<circle cx="304.8" cy="819.8" r="7.1" fill="#3389a3"/>
<circle cx="272.0" cy="831.7" r="7.1" fill="#3389a3"/>
<circle cx="284.1" cy="848.7" r="7.1" fill="#3389a3"/>
<circle cx="288.5" cy="864.5" r="7.1" fill="#3389a3"/>
<circle cx="272.0" cy="872.1" r="7.1" fill="#3389a3"/>
<circle cx="296.1" cy="877.6" r="7.1" fill="#3389a3"/>
<circle cx="280.0" cy="886.8" r="7.1" fill="#3389a3"/>
<circle cx="288.5" cy="891.3" r="7.1" fill="#3389a3"/>
<circle cx="296.0" cy="881.0" r="7.1" fill="#3389a3"/>
<circle cx="280.0" cy="904.6" r="7.1" fill="#3389a3"/>
<circle cx="271.4" cy="944.2" r="7.1" fill="#3389a3"/>
<circle cx="296.0" cy="942.1" r="7.1" fill="#3389a3"/>
<circle cx="288.5" cy="949.5" r="7.1" fill="#3389a3"/>
<circle cx="280.0" cy="954.9" r="7.1" fill="#3389a3"/>
<circle cx="284.2" cy="975.2" r="7.1" fill="#3389a3"/>
<circle cx="271.4" cy="1004.1" r="7.1" fill="#3389a3"/>
<circle cx="296.0" cy="1000.9" r="7.1" fill="#3389a3"/>
<circle cx="263.9" cy="1011.6" r="7.1" fill="#3389a3"/>
<circle cx="280.0" cy="1013.7" r="7.1" fill="#3389a3"/>
<circle cx="288.5" cy="1012.7" r="7.1" fill="#3389a3"/>
<circle cx="304.6" cy="1010.5" r="7.1" fill="#3389a3"/>
<circle cx="284.2" cy="1033.6" r="7.1" fill="#3389a3"/>
<circle cx="284.2" cy="1082.2" r="7.1" fill="#3389a3"/>
<circle cx="280.0" cy="1143.2" r="7.1" fill="#3389a3"/>
<circle cx="288.5" cy="1141.5" r="7.1" fill="#3389a3"/>
<circle cx="451.2" cy="763.7" r="7.1" fill="#3389a3"/>
<circle cx="447.0" cy="775.5" r="7.1" fill="#3389a3"/>
<circle cx="449.2" cy="801.6" r="7.1" fill="#3389a3"/>
<circle cx="449.2" cy="858.3" r="7.1" fill="#3389a3"/>
<circle cx="449.2" cy="868.9" r="7.1" fill="#3389a3"/>
<circle cx="449.2" cy="903.0" r="7.1" fill="#3389a3"/>
<circle cx="449.2" cy="937.8" r="7.1" fill="#3389a3"/>
<circle cx="449.1" cy="964.0" r="7.1" fill="#3389a3"/>
<circle cx="452.2" cy="968.6" r="7.1" fill="#3389a3"/>
<circle cx="446.7" cy="975.0" r="7.1" fill="#3389a3"/>
<circle cx="449.1" cy="983.3" r="7.1" fill="#3389a3"/>
<circle cx="453.1" cy="998.0" r="7.1" fill="#3389a3"/>
<circle cx="444.9" cy="1010.8" r="7.1" fill="#3389a3"/>
<circle cx="449.1" cy="1024.6" r="7.1" fill="#3389a3"/>
<circle cx="446.7" cy="1040.2" r="7.1" fill="#3389a3"/>
<circle cx="451.3" cy="1042.0" r="7.1" fill="#3389a3"/>
<circle cx="449.1" cy="1066.8" r="7.1" fill="#3389a3"/>
<circle cx="449.1" cy="1081.5" r="7.1" fill="#3389a3"/>
<circle cx="442.1" cy="1087.9" r="7.1" fill="#3389a3"/>
<circle cx="455.9" cy="1091.6" r="7.1" fill="#3389a3"/>
<circle cx="448.5" cy="1096.1" r="7.1" fill="#3389a3"/>
<circle cx="449.1" cy="1109.0" r="7.1" fill="#3389a3"/>
<circle cx="449.1" cy="1124.0" r="7.1" fill="#3389a3"/>
<circle cx="433.5" cy="1134.3" r="7.1" fill="#3389a3"/>
<circle cx="428.3" cy="1143.9" r="7.1" fill="#3389a3"/>
<circle cx="437.0" cy="1143.9" r="7.1" fill="#3389a3"/>
<circle cx="446.0" cy="1143.9" r="7.1" fill="#3389a3"/>
<circle cx="455.0" cy="1143.9" r="7.1" fill="#3389a3"/>
<circle cx="464.0" cy="1143.9" r="7.1" fill="#3389a3"/>
<circle cx="469.6" cy="1143.9" r="7.1" fill="#3389a3"/>
<circle cx="386.9" cy="738.6" r="7.1" fill="#a01e64"/>
<circle cx="346.3" cy="751.0" r="7.1" fill="#a01e64"/>
<circle cx="360.1" cy="751.0" r="7.1" fill="#a01e64"/>
<circle cx="373.6" cy="746.1" r="7.1" fill="#a01e64"/>
<circle cx="373.6" cy="762.7" r="7.1" fill="#a01e64"/>
<circle cx="386.9" cy="773.0" r="7.1" fill="#a01e64"/>
<circle cx="346.3" cy="775.0" r="7.1" fill="#a01e64"/>
<circle cx="360.1" cy="777.1" r="7.1" fill="#a01e64"/>
<circle cx="373.6" cy="786.7" r="7.1" fill="#a01e64"/>
<circle cx="373.6" cy="815.6" r="7.1" fill="#a01e64"/>
<circle cx="360.1" cy="821.1" r="7.1" fill="#a01e64"/>
<circle cx="346.3" cy="869.3" r="7.1" fill="#a01e64"/>
<circle cx="360.1" cy="876.2" r="7.1" fill="#a01e64"/>
<circle cx="386.9" cy="883.8" r="7.1" fill="#a01e64"/>
<circle cx="346.3" cy="887.2" r="7.1" fill="#a01e64"/>
<circle cx="359.1" cy="895.0" r="7.1" fill="#a01e64"/>
<circle cx="373.0" cy="961.3" r="7.1" fill="#a01e64"/>
<circle cx="359.1" cy="948.5" r="7.1" fill="#a01e64"/>
<circle cx="359.1" cy="965.6" r="7.1" fill="#a01e64"/>
<circle cx="373.0" cy="1005.2" r="7.1" fill="#a01e64"/>
<circle cx="359.1" cy="1009.5" r="7.1" fill="#a01e64"/>
<circle cx="531.5" cy="747.8" r="7.1" fill="#a01e64"/>
<circle cx="521.4" cy="773.5" r="7.1" fill="#a01e64"/>
<circle cx="541.6" cy="774.2" r="7.1" fill="#a01e64"/>
<circle cx="531.5" cy="793.2" r="7.1" fill="#a01e64"/>
<circle cx="511.3" cy="805.8" r="7.1" fill="#a01e64"/>
<circle cx="531.5" cy="808.3" r="7.1" fill="#a01e64"/>
<circle cx="531.5" cy="825.1" r="7.1" fill="#a01e64"/>
<circle cx="531.5" cy="916.5" r="7.1" fill="#a01e64"/>
<circle cx="531.5" cy="938.7" r="7.1" fill="#a01e64"/>
<circle cx="531.5" cy="941.1" r="7.1" fill="#a01e64"/>
<circle cx="511.5" cy="958.5" r="7.1" fill="#a01e64"/>
<circle cx="531.5" cy="971.4" r="7.1" fill="#a01e64"/>
<circle cx="551.7" cy="967.3" r="7.1" fill="#a01e64"/>
<circle cx="511.5" cy="976.5" r="7.1" fill="#a01e64"/>
<circle cx="531.5" cy="1023.7" r="7.1" fill="#a01e64"/>
<circle cx="511.5" cy="1069.5" r="7.1" fill="#a01e64"/>
<circle cx="531.5" cy="1075.0" r="7.1" fill="#a01e64"/>
<circle cx="511.5" cy="1096.5" r="7.1" fill="#a01e64"/>
<circle cx="531.5" cy="1103.1" r="7.1" fill="#a01e64"/>
<circle cx="531.5" cy="1121.5" r="7.1" fill="#a01e64"/>
<circle cx="541.2" cy="1140.7" r="7.1" fill="#a01e64"/>
<circle cx="521.6" cy="1143.9" r="7.1" fill="#a01e64"/>
<line x1="284.10" y1="863.40" x2="284.10" y2="937.40" stroke="#000" stroke-width="3"/>
<line x1="269.10" y1="863.40" x2="299.10" y2="863.40" stroke="#000" stroke-width="3"/>
<line x1="269.10" y1="937.40" x2="299.10" y2="937.40" stroke="#000" stroke-width="3"/>
<line x1="256.60" y1="900.10" x2="311.60" y2="900.10" stroke="#000" stroke-width="3"/>
<line x1="366.70" y1="806.70" x2="366.70" y2="888.60" stroke="#000" stroke-width="3"/>
<line x1="351.95" y1="806.70" x2="381.45" y2="806.70" stroke="#000" stroke-width="3"/>
<line x1="351.95" y1="888.60" x2="381.45" y2="888.60" stroke="#000" stroke-width="3"/>
<line x1="339.20" y1="847.70" x2="394.20" y2="847.70" stroke="#000" stroke-width="3"/>
<line x1="449.10" y1="993.40" x2="449.10" y2="1067.30" stroke="#000" stroke-width="3"/>
<line x1="434.35" y1="993.40" x2="463.85" y2="993.40" stroke="#000" stroke-width="3"/>
<line x1="434.35" y1="1067.30" x2="463.85" y2="1067.30" stroke="#000" stroke-width="3"/>
<line x1="421.75" y1="1030.50" x2="476.45" y2="1030.50" stroke="#000" stroke-width="3"/>
<line x1="531.50" y1="891.90" x2="531.50" y2="1015.80" stroke="#000" stroke-width="3"/>
<line x1="516.75" y1="891.90" x2="546.25" y2="891.90" stroke="#000" stroke-width="3"/>
<line x1="516.75" y1="1015.80" x2="546.25" y2="1015.80" stroke="#000" stroke-width="3"/>
<line x1="504.25" y1="953.60" x2="558.75" y2="953.60" stroke="#000" stroke-width="3"/>
<rect x="764.90" y="1009.90" width="57.20" height="226.60" fill="#3389a3" stroke="#000" stroke-width="3.4"/>
<rect x="856.90" y="995.70" width="56.90" height="240.80" fill="#a01e64" stroke="#000" stroke-width="3.4"/>
<rect x="994.70" y="1036.70" width="55.10" height="199.80" fill="#3389a3" stroke="#000" stroke-width="3.4"/>
<rect x="1086.30" y="995.50" width="55.40" height="241.00" fill="#a01e64" stroke="#000" stroke-width="3.4"/>
<rect x="1223.20" y="1051.00" width="56.60" height="185.50" fill="#3389a3" stroke="#000" stroke-width="3.4"/>
<rect x="1314.60" y="1029.20" width="57.00" height="207.30" fill="#a01e64" stroke="#000" stroke-width="3.4"/>
<line x1="719.00" y1="1236.50" x2="732.60" y2="1236.50" stroke="#000" stroke-width="3.6"/>
<text transform="translate(693.38 1243.55) scale(0.9940 1)" font-size="20.42" font-weight="bold" fill="#000">10</text>
<line x1="719.00" y1="1045.00" x2="732.60" y2="1045.00" stroke="#000" stroke-width="3.6"/>
<text transform="translate(682.11 1052.05) scale(0.9940 1)" font-size="20.42" font-weight="bold" fill="#000">100</text>
<line x1="719.00" y1="853.50" x2="732.60" y2="853.50" stroke="#000" stroke-width="3.6"/>
<text transform="translate(670.75 860.55) scale(0.9940 1)" font-size="20.42" font-weight="bold" fill="#000">1000</text>
<line x1="719.00" y1="662.00" x2="732.60" y2="662.00" stroke="#000" stroke-width="3.6"/>
<text transform="translate(659.48 669.05) scale(0.9940 1)" font-size="20.42" font-weight="bold" fill="#000">10000</text>
<line x1="732.60" y1="660.10" x2="732.60" y2="1238.30" stroke="#000" stroke-width="3.6"/>
<line x1="719.00" y1="1236.80" x2="1404.80" y2="1236.80" stroke="#000" stroke-width="3.6"/>
<text transform="translate(647.85 1133.23) rotate(-90) scale(0.9849 1)" font-size="25.45" font-weight="bold" fill="#000">ND50 neutralisation titre (U/ml)</text>
<text transform="translate(798.64 1272.88) scale(0.9810 1)" font-size="22.04" font-weight="bold" fill="#000">Omicron</text>
<text transform="translate(809.41 1299.35) scale(0.9543 1)" font-size="22.42" font-weight="bold" fill="#000">BA.4/5</text>
<text transform="translate(1028.73 1269.38) scale(0.9761 1)" font-size="22.18" font-weight="bold" fill="#000">Omicron</text>
<text transform="translate(1045.43 1295.80) scale(0.9846 1)" font-size="21.40" font-weight="bold" fill="#000">BQ1.1</text>
<text transform="translate(1259.13 1273.38) scale(0.9978 1)" font-size="21.77" font-weight="bold" fill="#000">Omicron</text>
<text transform="translate(1281.59 1300.00) scale(0.9590 1)" font-size="22.17" font-weight="bold" fill="#000">XBB</text>
<circle cx="793.4" cy="667.2" r="5.15" fill="none" stroke="#000" stroke-width="2.2"/>
<circle cx="793.4" cy="761.6" r="5.15" fill="none" stroke="#000" stroke-width="2.2"/>
<circle cx="793.4" cy="768.0" r="5.15" fill="none" stroke="#000" stroke-width="2.2"/>
<circle cx="796.8" cy="860.4" r="5.15" fill="none" stroke="#000" stroke-width="2.2"/>
<circle cx="793.3" cy="862.0" r="5.15" fill="none" stroke="#000" stroke-width="2.2"/>
<circle cx="789.9" cy="868.9" r="5.15" fill="none" stroke="#000" stroke-width="2.2"/>
<circle cx="793.3" cy="880.6" r="5.15" fill="none" stroke="#000" stroke-width="2.2"/>
<circle cx="795.4" cy="903.6" r="5.15" fill="none" stroke="#000" stroke-width="2.2"/>
<circle cx="791.3" cy="906.7" r="5.15" fill="none" stroke="#000" stroke-width="2.2"/>
<circle cx="793.3" cy="915.4" r="5.15" fill="none" stroke="#000" stroke-width="2.2"/>
<circle cx="793.3" cy="969.4" r="5.15" fill="none" stroke="#000" stroke-width="2.2"/>
<circle cx="791.3" cy="976.9" r="5.15" fill="none" stroke="#000" stroke-width="2.2"/>
<circle cx="796.1" cy="981.0" r="5.15" fill="none" stroke="#000" stroke-width="2.2"/>
<circle cx="793.3" cy="988.6" r="5.15" fill="none" stroke="#000" stroke-width="2.2"/>
<circle cx="789.8" cy="1030.8" r="5.15" fill="none" stroke="#000" stroke-width="2.2"/>
<circle cx="793.7" cy="1028.3" r="5.15" fill="none" stroke="#000" stroke-width="2.2"/>
<circle cx="796.7" cy="1033.7" r="5.15" fill="none" stroke="#000" stroke-width="2.2"/>
<circle cx="796.7" cy="1049.6" r="5.15" fill="none" stroke="#000" stroke-width="2.2"/>
<circle cx="793.7" cy="1053.6" r="5.15" fill="none" stroke="#000" stroke-width="2.2"/>
<circle cx="789.8" cy="1058.6" r="5.15" fill="none" stroke="#000" stroke-width="2.2"/>
<circle cx="793.4" cy="1082.0" r="5.15" fill="none" stroke="#000" stroke-width="2.2"/>
<circle cx="771.9" cy="1092.9" r="5.15" fill="none" stroke="#000" stroke-width="2.2"/>
<circle cx="768.3" cy="1102.6" r="5.15" fill="none" stroke="#000" stroke-width="2.2"/>
<circle cx="771.6" cy="1102.6" r="5.15" fill="none" stroke="#000" stroke-width="2.2"/>
<circle cx="775.0" cy="1102.6" r="5.15" fill="none" stroke="#000" stroke-width="2.2"/>
<circle cx="778.3" cy="1102.6" r="5.15" fill="none" stroke="#000" stroke-width="2.2"/>
<circle cx="781.7" cy="1102.6" r="5.15" fill="none" stroke="#000" stroke-width="2.2"/>
<circle cx="785.0" cy="1102.6" r="5.15" fill="none" stroke="#000" stroke-width="2.2"/>
<circle cx="788.4" cy="1102.6" r="5.15" fill="none" stroke="#000" stroke-width="2.2"/>
<circle cx="791.7" cy="1102.6" r="5.15" fill="none" stroke="#000" stroke-width="2.2"/>
<circle cx="795.1" cy="1102.6" r="5.15" fill="none" stroke="#000" stroke-width="2.2"/>
<circle cx="798.4" cy="1102.6" r="5.15" fill="none" stroke="#000" stroke-width="2.2"/>
<circle cx="801.8" cy="1102.6" r="5.15" fill="none" stroke="#000" stroke-width="2.2"/>
<circle cx="805.1" cy="1102.6" r="5.15" fill="none" stroke="#000" stroke-width="2.2"/>
<circle cx="808.5" cy="1102.6" r="5.15" fill="none" stroke="#000" stroke-width="2.2"/>
<circle cx="811.8" cy="1102.6" r="5.15" fill="none" stroke="#000" stroke-width="2.2"/>
<circle cx="815.2" cy="1102.6" r="5.15" fill="none" stroke="#000" stroke-width="2.2"/>
<circle cx="818.5" cy="1102.6" r="5.15" fill="none" stroke="#000" stroke-width="2.2"/>
<circle cx="884.9" cy="696.2" r="5.15" fill="none" stroke="#000" stroke-width="2.2"/>
<circle cx="884.9" cy="709.4" r="5.15" fill="none" stroke="#000" stroke-width="2.2"/>
<circle cx="884.9" cy="767.7" r="5.15" fill="none" stroke="#000" stroke-width="2.2"/>
<circle cx="884.9" cy="862.4" r="5.15" fill="none" stroke="#000" stroke-width="2.2"/>
<circle cx="884.9" cy="893.4" r="5.15" fill="none" stroke="#000" stroke-width="2.2"/>
<circle cx="884.9" cy="944.6" r="5.15" fill="none" stroke="#000" stroke-width="2.2"/>
<circle cx="884.9" cy="957.2" r="5.15" fill="none" stroke="#000" stroke-width="2.2"/>
<circle cx="884.9" cy="972.1" r="5.15" fill="none" stroke="#000" stroke-width="2.2"/>
<circle cx="884.7" cy="1022.8" r="5.15" fill="none" stroke="#000" stroke-width="2.2"/>
<circle cx="874.3" cy="1049.1" r="5.15" fill="none" stroke="#000" stroke-width="2.2"/>
<circle cx="895.6" cy="1050.6" r="5.15" fill="none" stroke="#000" stroke-width="2.2"/>
<circle cx="888.7" cy="1056.6" r="5.15" fill="none" stroke="#000" stroke-width="2.2"/>
<circle cx="881.2" cy="1061.6" r="5.15" fill="none" stroke="#000" stroke-width="2.2"/>
<circle cx="859.7" cy="1102.6" r="5.15" fill="none" stroke="#000" stroke-width="2.2"/>
<circle cx="866.0" cy="1102.6" r="5.15" fill="none" stroke="#000" stroke-width="2.2"/>
<circle cx="872.4" cy="1102.6" r="5.15" fill="none" stroke="#000" stroke-width="2.2"/>
<circle cx="878.7" cy="1102.6" r="5.15" fill="none" stroke="#000" stroke-width="2.2"/>
<circle cx="885.0" cy="1102.6" r="5.15" fill="none" stroke="#000" stroke-width="2.2"/>
<circle cx="891.3" cy="1102.6" r="5.15" fill="none" stroke="#000" stroke-width="2.2"/>
<circle cx="897.7" cy="1102.6" r="5.15" fill="none" stroke="#000" stroke-width="2.2"/>
<circle cx="904.0" cy="1102.6" r="5.15" fill="none" stroke="#000" stroke-width="2.2"/>
<circle cx="910.3" cy="1102.6" r="5.15" fill="none" stroke="#000" stroke-width="2.2"/>
<circle cx="1022.1" cy="804.7" r="5.15" fill="none" stroke="#000" stroke-width="2.2"/>
<circle cx="1016.4" cy="922.6" r="5.15" fill="none" stroke="#000" stroke-width="2.2"/>
<circle cx="1027.3" cy="926.2" r="5.15" fill="none" stroke="#000" stroke-width="2.2"/>
<circle cx="1022.1" cy="1061.0" r="5.15" fill="none" stroke="#000" stroke-width="2.2"/>
<circle cx="996.1" cy="1103.1" r="5.15" fill="none" stroke="#000" stroke-width="2.2"/>
<circle cx="1006.5" cy="1103.1" r="5.15" fill="none" stroke="#000" stroke-width="2.2"/>
<circle cx="1016.9" cy="1103.1" r="5.15" fill="none" stroke="#000" stroke-width="2.2"/>
<circle cx="1027.3" cy="1103.1" r="5.15" fill="none" stroke="#000" stroke-width="2.2"/>
<circle cx="1037.8" cy="1103.1" r="5.15" fill="none" stroke="#000" stroke-width="2.2"/>
<circle cx="1048.2" cy="1103.1" r="5.15" fill="none" stroke="#000" stroke-width="2.2"/>
<circle cx="1114.0" cy="787.8" r="5.15" fill="none" stroke="#000" stroke-width="2.2"/>
<circle cx="1114.0" cy="804.7" r="5.15" fill="none" stroke="#000" stroke-width="2.2"/>
<circle cx="1114.0" cy="820.3" r="5.15" fill="none" stroke="#000" stroke-width="2.2"/>
<circle cx="1114.0" cy="972.0" r="5.15" fill="none" stroke="#000" stroke-width="2.2"/>
<circle cx="1114.0" cy="1054.5" r="5.15" fill="none" stroke="#000" stroke-width="2.2"/>
<circle cx="1114.0" cy="1078.6" r="5.15" fill="none" stroke="#000" stroke-width="2.2"/>
<circle cx="1105.4" cy="1099.5" r="5.15" fill="none" stroke="#000" stroke-width="2.2"/>
<circle cx="1088.0" cy="1103.1" r="5.15" fill="none" stroke="#000" stroke-width="2.2"/>
<circle cx="1122.6" cy="1103.1" r="5.15" fill="none" stroke="#000" stroke-width="2.2"/>
<circle cx="1139.2" cy="1103.1" r="5.15" fill="none" stroke="#000" stroke-width="2.2"/>
<circle cx="1251.3" cy="839.5" r="5.15" fill="none" stroke="#000" stroke-width="2.2"/>
<circle cx="1251.3" cy="929.4" r="5.15" fill="none" stroke="#000" stroke-width="2.2"/>
<circle cx="1251.3" cy="1039.7" r="5.15" fill="none" stroke="#000" stroke-width="2.2"/>
<circle cx="1251.3" cy="1063.0" r="5.15" fill="none" stroke="#000" stroke-width="2.2"/>
<circle cx="1225.6" cy="1102.7" r="5.15" fill="none" stroke="#000" stroke-width="2.2"/>
<circle cx="1235.7" cy="1102.7" r="5.15" fill="none" stroke="#000" stroke-width="2.2"/>
<circle cx="1246.2" cy="1102.7" r="5.15" fill="none" stroke="#000" stroke-width="2.2"/>
<circle cx="1256.3" cy="1102.7" r="5.15" fill="none" stroke="#000" stroke-width="2.2"/>
<circle cx="1266.6" cy="1102.7" r="5.15" fill="none" stroke="#000" stroke-width="2.2"/>
<circle cx="1277.0" cy="1102.7" r="5.15" fill="none" stroke="#000" stroke-width="2.2"/>
<circle cx="1336.1" cy="849.4" r="5.15" fill="none" stroke="#000" stroke-width="2.2"/>
<circle cx="1348.7" cy="848.0" r="5.15" fill="none" stroke="#000" stroke-width="2.2"/>
<circle cx="1342.5" cy="906.0" r="5.15" fill="none" stroke="#000" stroke-width="2.2"/>
<circle cx="1342.5" cy="1066.5" r="5.15" fill="none" stroke="#000" stroke-width="2.2"/>
<circle cx="1342.5" cy="1078.7" r="5.15" fill="none" stroke="#000" stroke-width="2.2"/>
<circle cx="1317.3" cy="1102.7" r="5.15" fill="none" stroke="#000" stroke-width="2.2"/>
<circle cx="1329.9" cy="1102.7" r="5.15" fill="none" stroke="#000" stroke-width="2.2"/>
<circle cx="1342.5" cy="1102.7" r="5.15" fill="none" stroke="#000" stroke-width="2.2"/>
<circle cx="1355.2" cy="1102.7" r="5.15" fill="none" stroke="#000" stroke-width="2.2"/>
<circle cx="1368.2" cy="1102.7" r="5.15" fill="none" stroke="#000" stroke-width="2.2"/>
<line x1="1536.80" y1="1245.30" x2="1551.20" y2="1245.30" stroke="#000" stroke-width="3.7"/>
<text transform="translate(1508.88 1252.90) scale(1.0654 1)" font-size="20.28" font-weight="bold" fill="#000">10</text>
<line x1="1536.80" y1="1057.60" x2="1551.20" y2="1057.60" stroke="#000" stroke-width="3.7"/>
<text transform="translate(1496.89 1065.20) scale(1.0654 1)" font-size="20.28" font-weight="bold" fill="#000">100</text>
<line x1="1536.80" y1="869.90" x2="1551.20" y2="869.90" stroke="#000" stroke-width="3.7"/>
<text transform="translate(1484.79 877.50) scale(1.0654 1)" font-size="20.28" font-weight="bold" fill="#000">1000</text>
<line x1="1536.80" y1="682.20" x2="1551.20" y2="682.20" stroke="#000" stroke-width="3.7"/>
<text transform="translate(1472.80 689.80) scale(1.0654 1)" font-size="20.28" font-weight="bold" fill="#000">10000</text>
<line x1="1551.20" y1="680.20" x2="1551.20" y2="1247.20" stroke="#000" stroke-width="3.8"/>
<line x1="1536.80" y1="1245.30" x2="1902.00" y2="1245.30" stroke="#000" stroke-width="3.8"/>
<text transform="translate(1457.52 1207.50) rotate(-90) scale(0.9855 1)" font-size="28.03" font-weight="bold" fill="#000">ELISPOT IFN</text>
<text transform="translate(1458.45 1036.60) rotate(-90) scale(0.7866 1)" font-size="25.95" font-weight="normal" fill="#000">γ</text>
<text transform="translate(1457.86 1011.37) rotate(-90) scale(0.9490 1)" font-size="28.77" font-weight="bold" fill="#000">(spots/1*10^6 PBMCs)</text>
<text transform="translate(1585.61 1284.06) scale(0.9907 1)" font-size="23.67" font-weight="bold" fill="#000">Ancestral</text>
<text transform="translate(1794.32 1282.80) scale(0.9214 1)" font-size="24.64" font-weight="bold" fill="#000">BA.1</text>
<text stroke="#000" stroke-width="1.4" stroke-linejoin="round" transform="translate(1628.06 778.58) scale(0.9209 1)" font-size="34.84" font-weight="bold" fill="#000" style="font-family:'DejaVu Sans',sans-serif">*</text>
<text stroke="#000" stroke-width="1.4" stroke-linejoin="round" transform="translate(1783.96 778.58) scale(0.9209 1)" font-size="34.84" font-weight="bold" letter-spacing="0.73" style="font-family:'DejaVu Sans',sans-serif">****</text>
<path d="M 1599.8 827.1 L 1599.8 780.9 L 1672.6 780.9 L 1672.6 799.3" fill="none" stroke="#000" stroke-width="2.4" stroke-linejoin="round"/>
<path d="M 1781.4 834.3 L 1781.4 780.9 L 1854.2 780.9 L 1854.2 801.7" fill="none" stroke="#000" stroke-width="2.4" stroke-linejoin="round"/>
<circle cx="1599.7" cy="843.5" r="7.3" fill="#2196f3" stroke="#000" stroke-width="2.5"/>
<circle cx="1599.7" cy="862.3" r="7.3" fill="#2196f3" stroke="#000" stroke-width="2.5"/>
<circle cx="1599.7" cy="924.5" r="7.3" fill="#2196f3" stroke="#000" stroke-width="2.5"/>
<circle cx="1582.7" cy="940.4" r="7.3" fill="#2196f3" stroke="#000" stroke-width="2.5"/>
<circle cx="1616.7" cy="941.0" r="7.3" fill="#2196f3" stroke="#000" stroke-width="2.5"/>
<circle cx="1599.7" cy="962.8" r="7.3" fill="#2196f3" stroke="#000" stroke-width="2.5"/>
<circle cx="1599.7" cy="989.6" r="7.3" fill="#2196f3" stroke="#000" stroke-width="2.5"/>
<circle cx="1599.7" cy="1091.5" r="7.3" fill="#2196f3" stroke="#000" stroke-width="2.5"/>
<circle cx="1764.2" cy="851.0" r="7.3" fill="#2196f3" stroke="#000" stroke-width="2.5"/>
<circle cx="1798.7" cy="865.1" r="7.3" fill="#2196f3" stroke="#000" stroke-width="2.5"/>
<circle cx="1781.1" cy="926.2" r="7.3" fill="#2196f3" stroke="#000" stroke-width="2.5"/>
<circle cx="1764.2" cy="943.8" r="7.3" fill="#2196f3" stroke="#000" stroke-width="2.5"/>
<circle cx="1798.7" cy="958.0" r="7.3" fill="#2196f3" stroke="#000" stroke-width="2.5"/>
<circle cx="1764.2" cy="986.2" r="7.3" fill="#2196f3" stroke="#000" stroke-width="2.5"/>
<circle cx="1798.7" cy="990.5" r="7.3" fill="#2196f3" stroke="#000" stroke-width="2.5"/>
<circle cx="1781.1" cy="1105.1" r="7.3" fill="#2196f3" stroke="#000" stroke-width="2.5"/>
<circle cx="1672.5" cy="815.0" r="7.3" fill="#e04468" stroke="#000" stroke-width="2.5"/>
<circle cx="1654.9" cy="821.5" r="7.3" fill="#e04468" stroke="#000" stroke-width="2.5"/>
<circle cx="1689.4" cy="828.6" r="7.3" fill="#e04468" stroke="#000" stroke-width="2.5"/>
<circle cx="1663.6" cy="870.0" r="7.3" fill="#e04468" stroke="#000" stroke-width="2.5"/>
<circle cx="1680.8" cy="869.7" r="7.3" fill="#e04468" stroke="#000" stroke-width="2.5"/>
<circle cx="1681.1" cy="888.5" r="7.3" fill="#e04468" stroke="#000" stroke-width="2.5"/>
<circle cx="1663.6" cy="900.2" r="7.3" fill="#e04468" stroke="#000" stroke-width="2.5"/>
<circle cx="1672.5" cy="927.4" r="7.3" fill="#e04468" stroke="#000" stroke-width="2.5"/>
<circle cx="1672.5" cy="1059.8" r="7.3" fill="#e04468" stroke="#000" stroke-width="2.5"/>
<circle cx="1837.2" cy="822.6" r="7.3" fill="#e04468" stroke="#000" stroke-width="2.5"/>
<circle cx="1854.2" cy="821.2" r="7.3" fill="#e04468" stroke="#000" stroke-width="2.5"/>
<circle cx="1871.7" cy="817.8" r="7.3" fill="#e04468" stroke="#000" stroke-width="2.5"/>
<circle cx="1862.7" cy="858.3" r="7.3" fill="#e04468" stroke="#000" stroke-width="2.5"/>
<circle cx="1845.7" cy="866.0" r="7.3" fill="#e04468" stroke="#000" stroke-width="2.5"/>
<circle cx="1871.7" cy="898.0" r="7.3" fill="#e04468" stroke="#000" stroke-width="2.5"/>
<circle cx="1854.2" cy="907.6" r="7.3" fill="#e04468" stroke="#000" stroke-width="2.5"/>
<circle cx="1854.2" cy="937.6" r="7.3" fill="#e04468" stroke="#000" stroke-width="2.5"/>
<circle cx="1854.2" cy="1059.8" r="7.3" fill="#e04468" stroke="#000" stroke-width="2.5"/>
<line x1="1599.70" y1="862.30" x2="1599.70" y2="1091.50" stroke="#000" stroke-width="1.2"/>
<line x1="1587.30" y1="862.30" x2="1612.10" y2="862.30" stroke="#000" stroke-width="1.2"/>
<line x1="1587.30" y1="1091.50" x2="1612.10" y2="1091.50" stroke="#000" stroke-width="1.2"/>
<line x1="1575.45" y1="941.00" x2="1623.95" y2="941.00" stroke="#000" stroke-width="2.2"/>
<line x1="1672.50" y1="821.50" x2="1672.50" y2="927.40" stroke="#000" stroke-width="1.2"/>
<line x1="1660.20" y1="821.50" x2="1684.80" y2="821.50" stroke="#000" stroke-width="1.2"/>
<line x1="1660.20" y1="927.40" x2="1684.80" y2="927.40" stroke="#000" stroke-width="1.2"/>
<line x1="1648.20" y1="870.00" x2="1696.80" y2="870.00" stroke="#000" stroke-width="2.2"/>
<line x1="1781.10" y1="865.10" x2="1781.10" y2="1105.10" stroke="#000" stroke-width="1.2"/>
<line x1="1769.45" y1="865.10" x2="1792.75" y2="865.10" stroke="#000" stroke-width="1.2"/>
<line x1="1769.45" y1="1105.10" x2="1792.75" y2="1105.10" stroke="#000" stroke-width="1.2"/>
<line x1="1757.00" y1="958.00" x2="1805.20" y2="958.00" stroke="#000" stroke-width="2.2"/>
<line x1="1854.20" y1="821.20" x2="1854.20" y2="937.60" stroke="#000" stroke-width="1.2"/>
<line x1="1841.90" y1="821.20" x2="1866.50" y2="821.20" stroke="#000" stroke-width="1.2"/>
<line x1="1841.90" y1="937.60" x2="1866.50" y2="937.60" stroke="#000" stroke-width="1.2"/>
<line x1="1830.60" y1="865.40" x2="1877.80" y2="865.40" stroke="#000" stroke-width="2.2"/>
</svg></body></html>
